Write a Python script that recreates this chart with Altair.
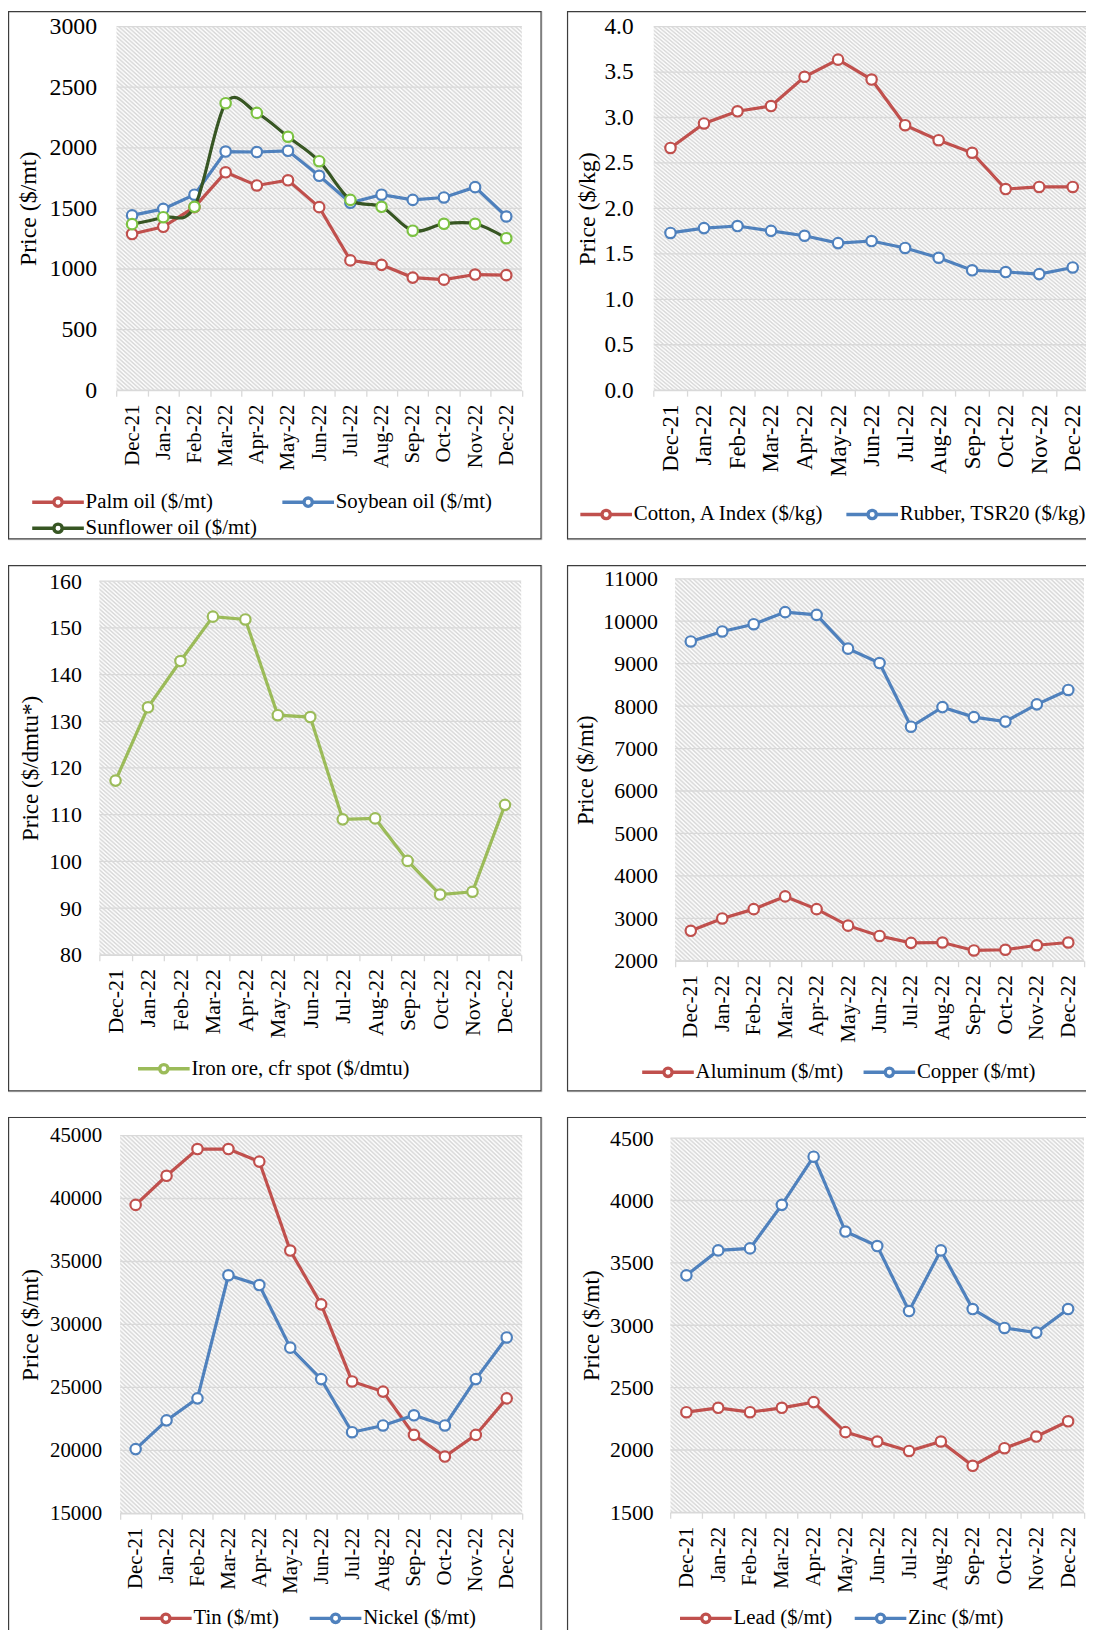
import altair as alt
import pandas as pd

# ---------------- data ----------------
months = ["Dec-21", "Jan-22", "Feb-22", "Mar-22", "Apr-22", "May-22", "Jun-22",
          "Jul-22", "Aug-22", "Sep-22", "Oct-22", "Nov-22", "Dec-22"]

palm_oil = [1288, 1348, 1510, 1798, 1689, 1732, 1510, 1071, 1034, 929, 912, 954, 949]
soybean_oil = [1442, 1496, 1613, 1969, 1965, 1975, 1769, 1547, 1613, 1570, 1590, 1675, 1433]
sunflower_oil = [1370, 1427, 1513, 2368, 2288, 2091, 1889, 1570, 1513, 1316, 1373, 1373, 1254]

cotton = [2.665, 2.934, 3.068, 3.126, 3.448, 3.636, 3.417, 2.915, 2.750, 2.612, 2.213, 2.236, 2.236]
rubber = [1.730, 1.783, 1.806, 1.753, 1.699, 1.618, 1.641, 1.565, 1.457, 1.319, 1.300, 1.277, 1.350]

iron_ore = [117.3, 133.0, 142.9, 152.4, 151.8, 131.3, 130.9, 109.0, 109.2, 100.1, 92.9, 93.5, 112.1]

aluminum = [2705, 2997, 3216, 3516, 3216, 2827, 2584, 2422, 2430, 2243, 2259, 2365, 2430]
copper = [9524, 9759, 9930, 10214, 10149, 9354, 9014, 7514, 7976, 7741, 7635, 8041, 8381]

tin = [39494, 41804, 43926, 43926, 42932, 35868, 31597, 25473, 24667, 21229, 19510, 21229, 24130]
nickel = [20101, 22384, 24130, 33907, 33128, 28159, 25660, 21444, 21981, 22787, 21981, 25660, 28965]

lead = [2303, 2338, 2303, 2338, 2384, 2143, 2068, 1992, 2068, 1873, 2014, 2108, 2230]
zinc = [3400, 3600, 3616, 3965, 4351, 3751, 3635, 3114, 3600, 3130, 2978, 2941, 3130]

ticks_oils = [0, 500, 1000, 1500, 2000, 2500, 3000]
ticks_cotton = [0.0, 0.5, 1.0, 1.5, 2.0, 2.5, 3.0, 3.5, 4.0]
ticks_iron = [80, 90, 100, 110, 120, 130, 140, 150, 160]
ticks_alcu = [2000, 3000, 4000, 5000, 6000, 7000, 8000, 9000, 10000, 11000]
ticks_tin = [15000, 20000, 25000, 30000, 35000, 40000, 45000]
ticks_lead = [1500, 2000, 2500, 3000, 3500, 4000, 4500]

# ---------------- styles ----------------
FONT = "Liberation Serif"
RED, BLUE, GREEN = "#C0504D", "#4F81BD", "#9BBB59"
SUN_LINE, SUN_MARK = "#375623", "#7CC242"
GRID = "#D9D9D9"
LEG_PATH = "M-26,0L-4.2,0M4.2,0L26,0M4.2,0A4.2,4.2,0,1,1,-4.2,0A4.2,4.2,0,1,1,4.2,0Z"


def hatch(W, period=4.5, dark="#d6d6d6"):
    n = max(1, int(round(2 * W / period)))
    stops = []
    for k in range(n):
        stops.append(alt.GradientStop(offset=k / n, color="#ffffff"))
        stops.append(alt.GradientStop(offset=(k + 0.5) / n, color=dark))
    stops.append(alt.GradientStop(offset=1, color="#ffffff"))
    return alt.LinearGradient(gradient="linear", stops=stops, x1=0, y1=1, x2=1, y2=0)


def panel(p):
    FW, FH = p["frame"]          # whole panel (frame) size
    L, T, W, H = p["plot"]       # plot area inside the panel
    rows = []
    for name, vals, lc, mc, interp in p["series"]:
        for m, v in zip(months, vals):
            rows.append({"month": m, "series": name, "price": v})
    df = pd.DataFrame(rows)
    names = [s[0] for s in p["series"]]
    cscale = alt.Scale(domain=names, range=[s[2] for s in p["series"]])
    sscale = alt.Scale(domain=names, range=[s[3] for s in p["series"]])
    yscale = alt.Scale(domain=p["ydom"], nice=False, zero=False, range=[T + H, T])
    xscale = alt.Scale(type="band", domain=months, paddingInner=0, paddingOuter=0,
                       range=[L, L + W])

    xaxis = alt.Axis(title=None, labelAngle=270, labelAlign="right", labelBaseline="middle",
                     labelFont=FONT, labelFontSize=p["xfs"], labelColor="black",
                     labelPadding=8, tickBand="extent", ticks=True, tickSize=6,
                     tickColor=GRID, tickWidth=1.3, domainColor=GRID, domainWidth=1.3,
                     grid=False, zindex=2, offset=-(FH - T - H))
    yaxis = alt.Axis(title=p["ytitle"], titleFont=FONT, titleFontSize=p["tfs"],
                     titleFontWeight="normal", titleColor="black", titleX=p["titleX"],
                     titleY=T + H / 2, titleAngle=270, titleBaseline="middle",
                     titleAlign="center",
                     labelFont=FONT, labelFontSize=p["yfs"], labelColor="black",
                     labelPadding=p["ylp"], format=p["fmt"], values=p["ticks"],
                     domain=False, ticks=False, grid=False, zindex=2, offset=-L)
    legend = alt.Legend(title=None, orient="none", legendX=p["legX"], legendY=p["legY"],
                        columns=p["cols"], direction="horizontal", padding=0,
                        labelFont=FONT, labelFontSize=21, labelColor="black", labelLimit=0,
                        symbolType=LEG_PATH, symbolSize=4, symbolStrokeWidth=3.4,
                        symbolFillColor="white", symbolOffset=16, labelOffset=17.3,
                        columnPadding=p["colpad"], rowPadding=3.5)

    one = pd.DataFrame({"k": [0]})
    frame = alt.Chart(one).mark_rect(fill="transparent", stroke="#3d3d3d", strokeWidth=1.2).encode(
        x=alt.value(0.6), x2=alt.value(FW - 0.6), y=alt.value(0.6), y2=alt.value(FH - 0.6))
    bg = alt.Chart(one).mark_rect(fill=hatch(W)).encode(
        x=alt.value(L), x2=alt.value(L + W), y=alt.value(T), y2=alt.value(T + H))
    grid = alt.Chart(pd.DataFrame({"v": p["ticks"]})).mark_rule(
        color=GRID, strokeWidth=1.3).encode(
        y=alt.Y("v:Q", scale=yscale, axis=yaxis), x=alt.value(L), x2=alt.value(L + W))

    layers = [frame, bg, grid]
    for i, (name, vals, lc, mc, interp) in enumerate(p["series"]):
        base = alt.Chart(df).transform_filter(alt.datum.series == name)
        line = base.mark_line(strokeWidth=3.2, interpolate=interp).encode(
            x=alt.X("month:N", sort=months, scale=xscale, axis=xaxis),
            y=alt.Y("price:Q", scale=yscale, axis=yaxis),
            color=alt.Color("series:N", scale=cscale, legend=legend))
        pts = base.mark_point(shape="circle", size=110, strokeWidth=2.2, opacity=1).encode(
            x=alt.X("month:N", sort=months, scale=xscale, axis=xaxis),
            y=alt.Y("price:Q", scale=yscale, axis=yaxis),
            stroke=alt.Stroke("series:N", scale=sscale, legend=None),
            fill=alt.value("white"))
        layers += [line, pts]
    return alt.layer(*layers).properties(width=FW, height=FH)


P1 = dict(frame=(537.6, 532.2), plot=(109.3, 15.6, 408.4, 366.3),
          series=[("Palm oil ($/mt)", palm_oil, RED, RED, "linear"),
                  ("Soybean oil ($/mt)", soybean_oil, BLUE, BLUE, "linear"),
                  ("Sunflower oil ($/mt)", sunflower_oil, SUN_LINE, SUN_MARK, "cardinal")],
          ydom=[0, 3000], ticks=ticks_oils, fmt="d", ytitle="Price ($/mt)",
          yfs=24, xfs=21, tfs=24, titleX=-89, ylp=20,
          legX=23.9, legY=484, cols=2, colpad=18)
P2 = dict(frame=(537.6, 532.2), plot=(87.4, 15.6, 439, 366.3),
          series=[("Cotton, A Index ($/kg)", cotton, RED, RED, "linear"),
                  ("Rubber, TSR20 ($/kg)", rubber, BLUE, BLUE, "linear")],
          ydom=[0, 4], ticks=ticks_cotton, fmt=".1f", ytitle="Price ($/kg)",
          yfs=23.5, xfs=23, tfs=24, titleX=-67, ylp=20.8,
          legX=13, legY=496.4, cols=2, colpad=14)
P3 = dict(frame=(537.6, 530.3), plot=(92, 16.3, 425, 376.4),
          series=[("Iron ore, cfr spot ($/dmtu)", iron_ore, GREEN, GREEN, "linear")],
          ydom=[80, 160], ticks=ticks_iron, fmt="d", ytitle="Price ($/dmtu*)",
          yfs=22, xfs=22, tfs=23.2, titleX=-69.7, ylp=18,
          legX=130.5, legY=497, cols=1, colpad=10)
P4 = dict(frame=(537.6, 530.3), plot=(108.9, 13.9, 412, 384.8),
          series=[("Aluminum ($/mt)", aluminum, RED, RED, "linear"),
                  ("Copper ($/mt)", copper, BLUE, BLUE, "linear")],
          ydom=[2000, 11000], ticks=ticks_alcu, fmt="d", ytitle="Price ($/mt)",
          yfs=22, xfs=21.5, tfs=23, titleX=-90.3, ylp=17.8,
          legX=75.3, legY=500.3, cols=2, colpad=12)
P5 = dict(frame=(537.6, 540), plot=(113, 18.8, 405, 380.6),
          series=[("Tin ($/mt)", tin, RED, RED, "linear"),
                  ("Nickel ($/mt)", nickel, BLUE, BLUE, "linear")],
          ydom=[15000, 45000], ticks=ticks_tin, fmt="d", ytitle="Price ($/mt)",
          yfs=21, xfs=21, tfs=23.5, titleX=-90.2, ylp=18.7,
          legX=132.5, legY=494.4, cols=2, colpad=23)
P6 = dict(frame=(537.6, 540), plot=(104.3, 21.4, 416.6, 377),
          series=[("Lead ($/mt)", lead, RED, RED, "linear"),
                  ("Zinc ($/mt)", zinc, BLUE, BLUE, "linear")],
          ydom=[1500, 4500], ticks=ticks_lead, fmt="d", ytitle="Price ($/mt)",
          yfs=22, xfs=21, tfs=23.2, titleX=-79.6, ylp=17.4,
          legX=113.4, legY=494.4, cols=2, colpad=14)


def row(a, b):
    return alt.hconcat(panel(a), panel(b), spacing=12.1).resolve_scale(
        color="independent", stroke="independent", x="independent", y="independent"
    ).resolve_legend(color="independent", stroke="independent")


chart = alt.vconcat(row(P1, P2), row(P3, P4), row(P5, P6), spacing=24).resolve_scale(
    color="independent", stroke="independent", x="independent", y="independent"
).resolve_legend(color="independent", stroke="independent").properties(
    autosize=alt.AutoSizeParams(type="none"),
    padding={"left": 0, "top": -2.9, "right": 1086, "bottom": 1624.9}
).configure_view(strokeWidth=0).configure(background="white")

chart.save("out.html", embed_options={"renderer": "svg", "actions": False})
